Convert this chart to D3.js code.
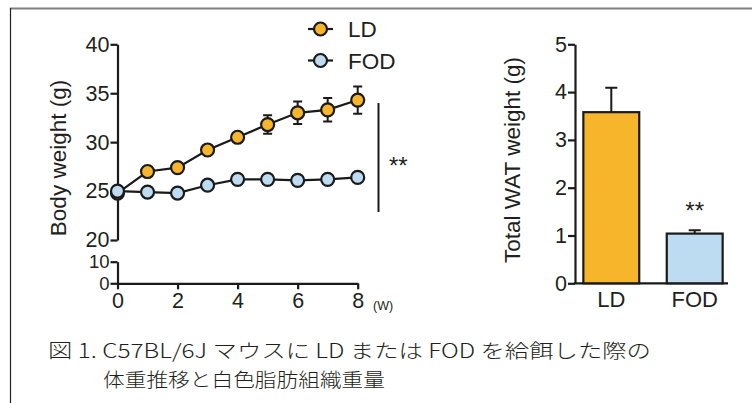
<!DOCTYPE html>
<html>
<head>
<meta charset="utf-8">
<script src="https://cdn.jsdelivr.net/npm/d3@7"></script>
<style>
  body { margin: 0; background: #fff; }
  svg { display: block; }
  text { font-family: "Liberation Sans", Arial, sans-serif; fill: #231f20; }
</style>
</head>
<body>
<div id="chart"></div>
<script>
// body weight time course
const weeks = [0, 1, 2, 3, 4, 5, 6, 7, 8];
const ldWeight = [24.8, 27.0, 27.4, 29.2, 30.5, 31.8, 33.0, 33.3, 34.3];
const ldErr = [0.3, 0.3, 0.3, 0.3, 0.4, 0.95, 1.15, 1.2, 1.4];
const fodWeight = [25.0, 24.9, 24.8, 25.6, 26.2, 26.2, 26.1, 26.2, 26.4];
const fodErr = [0.2, 0.2, 0.2, 0.2, 0.2, 0.2, 0.2, 0.2, 0.2];
const weekTicks = [0, 2, 4, 6, 8];
const upperTicks = [20, 25, 30, 35, 40];
const lowerTicks = [0, 10];

// WAT bar chart
const groups = ["LD", "FOD"];
const watMean = [3.58, 1.04];
const watErr = [0.51, 0.07];
const watTicks = [0, 1, 2, 3, 4, 5];

const colorLD = "#f7b52c",
  colorFOD = "#bddcf2",
  ink = "#1a1a1a";

const width = 752,
  height = 403;

const svg = d3
  .select("#chart")
  .append("svg")
  .attr("width", width)
  .attr("height", height);

svg.append("rect").attr("width", width).attr("height", height).attr("fill", "#fff");

// frame
svg.append("line").attr("x1", 10).attr("x2", width).attr("y1", 8.5).attr("y2", 8.5)
  .attr("stroke", "#808080").attr("stroke-width", 2);
svg.append("line").attr("x1", 10.5).attr("x2", 10.5).attr("y1", 8).attr("y2", height)
  .attr("stroke", "#222").attr("stroke-width", 1.2);

// ---------- left chart ----------
const x = d3.scaleLinear().domain([0, 8]).range([117.5, 357.7]);
const yUp = d3.scaleLinear().domain([20, 40]).range([240, 44.3]);
const yLow = d3.scaleLinear().domain([0, 10]).range([283.3, 261.7]);

const left = svg.append("g");

function styleAxis(g, fs) {
  g.selectAll(".domain").attr("stroke", ink).attr("stroke-width", 2.2);
  g.selectAll(".tick line").attr("stroke", ink).attr("stroke-width", 2.2);
  g.selectAll(".tick text").attr("font-size", fs).attr("fill", "#231f20");
}

left.append("g")
  .attr("transform", "translate(117.5,0)")
  .call(d3.axisLeft(yUp).tickValues(upperTicks).tickSize(7).tickSizeOuter(0).tickPadding(1))
  .call((g) => styleAxis(g, 21.5));

left.append("g")
  .attr("transform", "translate(117.5,0)")
  .call(d3.axisLeft(yLow).tickValues(lowerTicks).tickSize(7).tickSizeOuter(0).tickPadding(1))
  .call((g) => styleAxis(g, 18.5));

left.append("g")
  .attr("transform", "translate(0,283.3)")
  .call(d3.axisBottom(x).tickValues(weekTicks).tickSize(6).tickSizeOuter(0).tickPadding(3))
  .call((g) => styleAxis(g, 21.5));

left.append("text").attr("x", 373).attr("y", 307).attr("font-size", 12.5).attr("dominant-baseline", "middle")
  .text("(W)");

left.append("text")
  .attr("transform", "translate(66,158) rotate(-90)")
  .attr("text-anchor", "middle")
  .attr("font-size", 22.5)
  .text("Body weight (g)");

function drawSeries(vals, errs, fill) {
  const g = left.append("g");
  g.selectAll("path.err")
    .data(weeks)
    .enter()
    .append("path")
    .attr("d", (w, i) => {
      const cx = x(w), t = yUp(vals[i] + errs[i]), b = yUp(vals[i] - errs[i]);
      return `M${cx},${t}V${b}M${cx - 4.5},${t}H${cx + 4.5}M${cx - 4.5},${b}H${cx + 4.5}`;
    })
    .attr("stroke", ink).attr("stroke-width", 2).attr("fill", "none");
  g.append("path")
    .datum(weeks)
    .attr("d", d3.line().x((w) => x(w)).y((w, i) => yUp(vals[i])))
    .attr("fill", "none").attr("stroke", ink).attr("stroke-width", 2.2);
  g.selectAll("circle")
    .data(weeks)
    .enter()
    .append("circle")
    .attr("cx", (w) => x(w))
    .attr("cy", (w, i) => yUp(vals[i]))
    .attr("r", 6.5)
    .attr("fill", fill)
    .attr("stroke", ink)
    .attr("stroke-width", 2.2);
}
drawSeries(ldWeight, ldErr, colorLD);
drawSeries(fodWeight, fodErr, colorFOD);

// significance
left.append("line").attr("x1", 378.5).attr("x2", 378.5).attr("y1", 103).attr("y2", 212)
  .attr("stroke", ink).attr("stroke-width", 2);
left.append("text").attr("x", 389).attr("y", 174).attr("font-size", 24).text("**");

// legend
const legend = [["LD", colorLD, 29], ["FOD", colorFOD, 60.5]];
legend.forEach(([name, fill, ly]) => {
  left.append("line").attr("x1", 308).attr("x2", 333).attr("y1", ly).attr("y2", ly)
    .attr("stroke", ink).attr("stroke-width", 2.2);
  left.append("circle").attr("cx", 320.5).attr("cy", ly).attr("r", 6.5)
    .attr("fill", fill).attr("stroke", ink).attr("stroke-width", 2.2);
  left.append("text").attr("x", 348).attr("y", ly).attr("dy", "0.36em").attr("font-size", 22.5).text(name);
});

// ---------- right chart ----------
const right = svg.append("g");
const xb = d3.scaleBand().domain(groups).range([575, 731]).paddingInner(0.33).paddingOuter(0.1);
const yb = d3.scaleLinear().domain([0, 5]).range([283.3, 44.3]);

right.append("g")
  .attr("transform", "translate(575,0)")
  .call(d3.axisLeft(yb).tickValues(watTicks).tickFormat(d3.format("d")).tickSize(7).tickSizeOuter(0).tickPadding(1))
  .call((g) => styleAxis(g, 21.5));

right.append("g")
  .attr("transform", "translate(0,283.3)")
  .call(d3.axisBottom(xb).tickSize(0).tickSizeOuter(0).tickPadding(8))
  .call((g) => styleAxis(g, 22))
  .call((g) => g.select(".domain").attr("d", "M574,0H728"));

right.append("text")
  .attr("transform", "translate(520,160) rotate(-90)")
  .attr("text-anchor", "middle")
  .attr("font-size", 22.5)
  .text("Total WAT weight (g)");

const barFill = [colorLD, colorFOD];
right.selectAll("path.err")
  .data(groups)
  .enter()
  .append("path")
  .attr("d", (d, i) => {
    const cx = xb(d) + xb.bandwidth() / 2, t = yb(watMean[i] + watErr[i]), b = yb(watMean[i]);
    return `M${cx},${t}V${b}M${cx - 6},${t}H${cx + 6}`;
  })
  .attr("stroke", ink).attr("stroke-width", 2).attr("fill", "none");

right.selectAll("rect.bar")
  .data(groups)
  .enter()
  .append("rect")
  .attr("x", (d) => xb(d))
  .attr("y", (d, i) => yb(watMean[i]))
  .attr("width", xb.bandwidth())
  .attr("height", (d, i) => yb(0) - yb(watMean[i]))
  .attr("fill", (d, i) => barFill[i])
  .attr("stroke", ink)
  .attr("stroke-width", 2.2);

right.append("text")
  .attr("x", xb("FOD") + xb.bandwidth() / 2)
  .attr("y", 219)
  .attr("text-anchor", "middle")
  .attr("font-size", 24)
  .text("**");

// ---------- caption ----------
const captionLines = [
  "図 1. C57BL/6J マウスに LD または FOD を給餌した際の",
  "体重推移と白色脂肪組織重量"
];
const cap = svg.append("g");
cap.append("text").attr("x", 48).attr("y", 351).attr("dy", "0.36em").attr("font-size", 19.5)
  .attr("textLength", 603).attr("lengthAdjust", "spacingAndGlyphs")
  .style("font-family", "'Noto Sans CJK JP', sans-serif").style("font-weight", 300)
  .text(captionLines[0]);
cap.append("text").attr("x", 103).attr("y", 380).attr("dy", "0.36em").attr("font-size", 19.5)
  .attr("textLength", 282).attr("lengthAdjust", "spacingAndGlyphs")
  .style("font-family", "'Noto Sans CJK JP', sans-serif").style("font-weight", 300)
  .text(captionLines[1]);
</script>
</body>
</html>
